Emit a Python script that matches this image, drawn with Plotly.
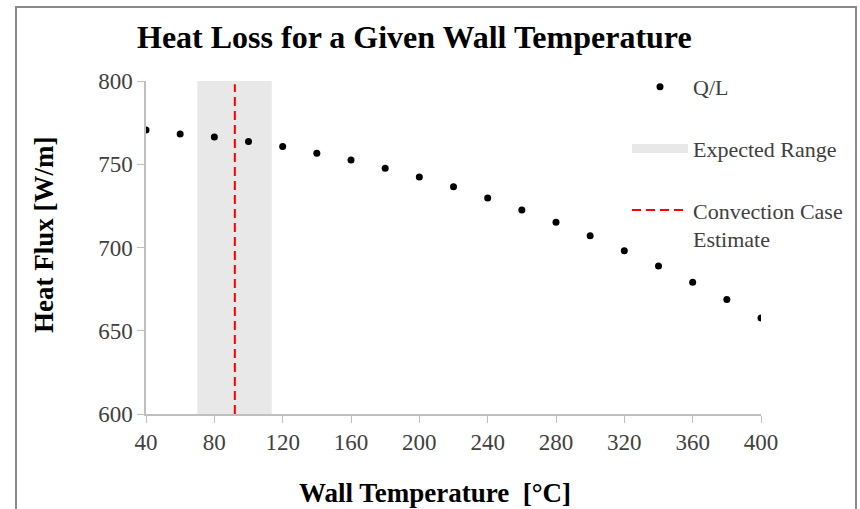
import plotly.graph_objects as go

# ---- data ----
wall_temp = [40, 60, 80, 100, 120, 140, 160, 180, 200, 220, 240, 260, 280, 300, 320, 340, 360, 380, 400]
heat_flux = [770.5, 768.2, 766.4, 763.6, 760.6, 756.6, 752.6, 747.6, 742.3, 736.5, 729.7, 722.5, 715.1,
             707.1, 698.0, 688.9, 679.1, 668.7, 657.7]
expected_range = [70, 113.6]
convection_estimate = 92
x_ticks = [40, 80, 120, 160, 200, 240, 280, 320, 360, 400]
y_ticks = [600, 650, 700, 750, 800]
y_range = [600, 800]

FONT = "Liberation Serif"
W, H = 860, 509
L, R, T, B = 146, 99, 81, 95
PW, PH = W - L - R, H - T - B

def px_x(p):
    return (p - L) / PW

def px_y(p):
    return (H - B - p) / PH

fig = go.Figure()

# expected range band (filled polygon, no legend)
fig.add_trace(go.Scatter(
    x=[expected_range[0], expected_range[0], expected_range[1], expected_range[1], expected_range[0]],
    y=[y_range[0], y_range[1], y_range[1], y_range[0], y_range[0]],
    fill="toself", fillcolor="#e8e8e8", line=dict(width=0), mode="lines",
    showlegend=False, hoverinfo="skip"))

fig.add_trace(go.Scatter(
    x=wall_temp, y=heat_flux, mode="markers", name="Q/L",
    marker=dict(color="black", size=7), legendgroup="a"))

# legend entry for the range
fig.add_trace(go.Scatter(
    x=[None], y=[None], mode="lines", name="Expected Range",
    line=dict(color="#e8e8e8", width=9), legendgroup="b"))

fig.add_trace(go.Scatter(
    x=[convection_estimate, convection_estimate], y=[y_range[0], y_range[1] - 2],
    mode="lines", name="Convection Case<br>Estimate",
    line=dict(color="#ff0000", width=2, dash="9px,5px"), legendgroup="c"))

TICKFONT = dict(family=FONT, size=23, color="#404040")

fig.update_layout(
    width=W, height=H,
    margin=dict(l=L, r=R, t=T, b=B),
    paper_bgcolor="white", plot_bgcolor="white",
    font=dict(family=FONT, size=22, color="#404040"),
    showlegend=True,
    legend=dict(x=px_x(627), y=px_y(66), xanchor="left", yanchor="top", valign="top",
                bgcolor="rgba(0,0,0,0)", itemwidth=56, tracegroupgap=30,
                font=dict(family=FONT, size=22, color="#404040")),
    xaxis=dict(range=[40, 400], tickvals=x_ticks, showgrid=False, zeroline=False,
               showline=True, linecolor="#bfbfbf", linewidth=1.5, ticks="outside",
               ticklen=7, tickcolor="#bfbfbf", tickfont=TICKFONT),
    yaxis=dict(range=y_range, tickvals=y_ticks, showgrid=False, zeroline=False,
               showline=True, linecolor="#bfbfbf", linewidth=1.5, ticks="outside",
               ticklen=7, tickcolor="#bfbfbf", tickfont=TICKFONT),
    annotations=[
        dict(text="<b>Heat Loss for a Given Wall Temperature</b>", xref="paper", yref="paper",
             x=px_x(414), y=px_y(37), showarrow=False, xanchor="center", yanchor="middle",
             font=dict(family=FONT, size=32, color="black")),
        dict(text="<b>Heat Flux [W/m]</b>", xref="paper", yref="paper", textangle=-90,
             x=px_x(44), y=px_y(235), showarrow=False, xanchor="center", yanchor="middle",
             font=dict(family=FONT, size=27, color="black")),
        dict(text="<b>Wall Temperature  [°C]</b>", xref="paper", yref="paper",
             x=px_x(435), y=px_y(493), showarrow=False, xanchor="center", yanchor="middle",
             font=dict(family=FONT, size=27, color="black")),
    ],
    shapes=[
        dict(type="rect", xref="paper", yref="paper", x0=px_x(16), x1=px_x(856), y0=px_y(600), y1=px_y(7),
             line=dict(color="#8a8a8a", width=2), fillcolor="rgba(0,0,0,0)", layer="above"),
    ],
)

fig.write_html("out.html")
